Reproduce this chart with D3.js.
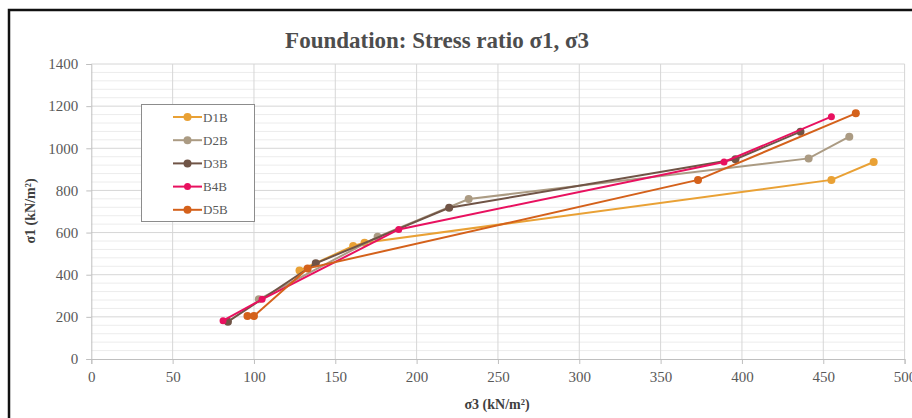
<!DOCTYPE html>
<html>
<head>
<meta charset="utf-8">
<script src="https://cdn.jsdelivr.net/npm/d3@7"></script>
<style>
  body { margin: 0; background: #fff; }
  svg { display: block; font-family: "Liberation Serif", "DejaVu Serif", serif; }
</style>
</head>
<body>
<svg id="chart"></svg>
<script>
// series names and colours
var names = ['D1B', 'D2B', 'D3B', 'B4B', 'D5B'];
var colors = ['#e9a135', '#ab9b83', '#705446', '#e8115f', '#d4611b'];

// sigma3 / sigma1 values per series (kN/m2)
var d1bS3 = [128, 161, 168, 455, 481];
var d1bS1 = [420, 536, 552, 850, 935];
var d2bS3 = [103, 176, 232, 441, 466];
var d2bS1 = [283, 580, 759, 952, 1055];
var d3bS3 = [84, 138, 220, 396, 436];
var d3bS1 = [177, 454, 718, 948, 1079];
var b4bS3 = [81, 105, 189, 389, 455];
var b4bS1 = [182, 283, 615, 935, 1150];
var d5bS3 = [96, 100, 133, 373, 470];
var d5bS1 = [204, 204, 430, 850, 1166];

var xTicks = [0, 50, 100, 150, 200, 250, 300, 350, 400, 450, 500];
var yTicks = [0, 200, 400, 600, 800, 1000, 1200, 1400];

(function () {
  var W = 912, H = 418;
  var left = 91.3, right = 904.6, top = 64, bottom = 359;

  var svg = d3.select('#chart').attr('width', W).attr('height', H);

  // outer frame
  svg.append('rect')
    .attr('x', 9).attr('y', 10)
    .attr('width', W + 10).attr('height', H + 10)
    .attr('fill', '#fff').attr('stroke', '#111').attr('stroke-width', 2.5);

  var x = d3.scaleLinear().domain([0, 500]).range([left, right]);
  var y = d3.scaleLinear().domain([0, 1400]).range([bottom, top]);

  var g = svg.append('g');

  // minor horizontal grid every 40
  g.append('g').selectAll('line')
    .data(d3.range(0, 1401, 40).filter(function(v) { return v % 200 !== 0; }))
    .enter().append('line')
    .attr('x1', left).attr('x2', right)
    .attr('y1', function(d) { return y(d); }).attr('y2', function(d) { return y(d); })
    .attr('stroke', '#ececec').attr('stroke-width', 1);

  // major grid
  g.append('g').selectAll('line')
    .data(yTicks.slice(1))
    .enter().append('line')
    .attr('x1', left).attr('x2', right)
    .attr('y1', function(d) { return y(d); }).attr('y2', function(d) { return y(d); })
    .attr('stroke', '#d6d6d6').attr('stroke-width', 1);
  g.append('g').selectAll('line')
    .data(xTicks.slice(1))
    .enter().append('line')
    .attr('y1', top).attr('y2', bottom)
    .attr('x1', function(d) { return x(d); }).attr('x2', function(d) { return x(d); })
    .attr('stroke', '#d6d6d6').attr('stroke-width', 1);

  // x axis
  var xAxis = g.append('g').attr('transform', 'translate(0,' + bottom + ')');
  xAxis.call(d3.axisBottom(x).tickValues(d3.range(0, 501, 10)).tickSize(4).tickFormat(''));
  xAxis.call(d3.axisBottom(x).tickValues(xTicks).tickSize(5).tickPadding(7).tickFormat(d3.format('d')));
  xAxis.selectAll('path, line').attr('stroke', '#bfbfbf');
  xAxis.selectAll('text').attr('fill', '#595959')
    .style('font-size', '15px').style('font-family', '"Liberation Serif", serif');

  // y axis
  var yAxis = g.append('g').attr('transform', 'translate(' + left + ',0)');
  yAxis.call(d3.axisLeft(y).tickValues(d3.range(0, 1401, 40)).tickSize(4).tickFormat(''));
  yAxis.call(d3.axisLeft(y).tickValues(yTicks).tickSize(5).tickPadding(8).tickFormat(d3.format('d')));
  yAxis.selectAll('path, line').attr('stroke', '#bfbfbf');
  yAxis.selectAll('text').attr('fill', '#595959')
    .style('font-size', '15px').style('font-family', '"Liberation Serif", serif');

  // series
  var series = [
    {name: names[0], color: colors[0], xs: d1bS3, ys: d1bS1},
    {name: names[1], color: colors[1], xs: d2bS3, ys: d2bS1},
    {name: names[2], color: colors[2], xs: d3bS3, ys: d3bS1},
    {name: names[3], color: colors[3], xs: b4bS3, ys: b4bS1},
    {name: names[4], color: colors[4], xs: d5bS3, ys: d5bS1}
  ];

  var line = d3.line()
    .x(function(d) { return x(d[0]); })
    .y(function(d) { return y(d[1]); });

  series.forEach(function(s) {
    var pts = s.xs.map(function(v, i) { return [v, s.ys[i]]; });
    var sg = g.append('g');
    sg.append('path')
      .attr('d', line(pts))
      .attr('fill', 'none')
      .attr('stroke', s.color)
      .attr('stroke-width', 2);
    sg.selectAll('circle')
      .data(pts)
      .enter().append('circle')
      .attr('cx', function(d) { return x(d[0]); })
      .attr('cy', function(d) { return y(d[1]); })
      .attr('r', s.name === 'B4B' ? 3.5 : 4)
      .attr('fill', s.color);
  });

  // title
  svg.append('text')
    .attr('x', 437).attr('y', 48)
    .attr('text-anchor', 'middle')
    .attr('fill', '#4d4d4d')
    .style('font-size', '23px').style('font-weight', 'bold')
    .text('Foundation: Stress ratio σ1, σ3');

  // axis titles
  svg.append('text')
    .attr('transform', 'translate(35,' + 211 + ') rotate(-90)')
    .attr('text-anchor', 'middle')
    .attr('fill', '#404040')
    .style('font-size', '14px').style('font-weight', 'bold')
    .text('σ1 (kN/m²)');
  svg.append('text')
    .attr('x', 497).attr('y', 409)
    .attr('text-anchor', 'middle')
    .attr('fill', '#404040')
    .style('font-size', '14px').style('font-weight', 'bold')
    .text('σ3 (kN/m²)');

  // legend
  var lg = svg.append('g');
  lg.append('rect')
    .attr('x', 141.5).attr('y', 104.5).attr('width', 113).attr('height', 117)
    .attr('fill', '#fff').attr('stroke', '#8c8c8c').attr('stroke-width', 1);
  series.forEach(function(s, i) {
    var ly = 117 + i * 23.2;
    lg.append('line')
      .attr('x1', 173).attr('x2', 202).attr('y1', ly).attr('y2', ly)
      .attr('stroke', s.color).attr('stroke-width', 2);
    lg.append('circle')
      .attr('cx', 187.5).attr('cy', ly).attr('r', s.name === 'B4B' ? 3.5 : 4)
      .attr('fill', s.color);
    lg.append('text')
      .attr('x', 203).attr('y', ly + 4.5)
      .attr('fill', '#595959')
      .style('font-size', '13px')
      .text(s.name);
  });
})();
</script>
</body>
</html>
